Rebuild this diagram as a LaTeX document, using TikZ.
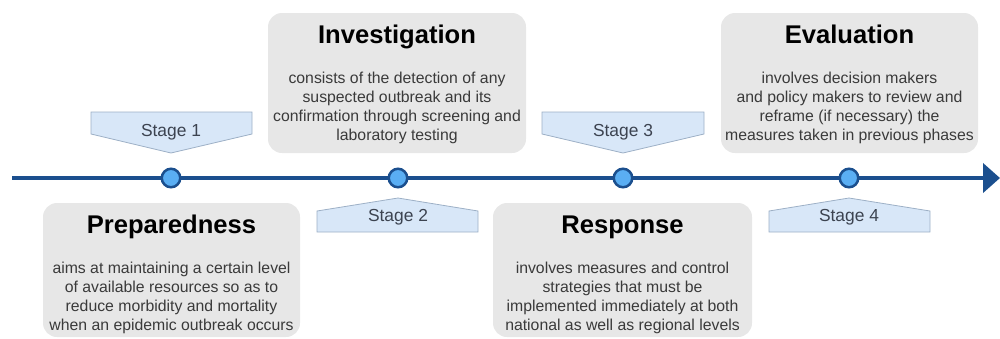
\documentclass[tikz,border=0pt]{standalone}
\usepackage{fontspec}
\setmainfont{Liberation Sans}
\usetikzlibrary{arrows.meta}

\definecolor{lineblue}{HTML}{1B4F8E}
\definecolor{dotblue}{HTML}{5AAEF3}
\definecolor{tabblue}{HTML}{D8E7F8}
\definecolor{tabedge}{HTML}{9DB0C6}
\definecolor{cardgray}{HTML}{E7E7E7}
\definecolor{bodygray}{HTML}{3A3A3A}
\definecolor{stagegray}{HTML}{3C4350}

\tikzset{
  card/.style={fill=cardgray, rounded corners=14pt},
  title/.style={font=\fontsize{25.6}{30}\selectfont\bfseries, text=black, anchor=base, inner sep=0pt},
  % multi-line texts: the base anchor sits on the last line
  body/.style={font=\fontsize{15.8}{19}\selectfont, text=bodygray, align=center, anchor=base, inner sep=0pt},
  stagetxt/.style={font=\fontsize{17.4}{20}\selectfont, text=stagegray, anchor=base, inner sep=0pt},
  tab/.style={fill=tabblue, draw=tabedge, line width=0.8pt, line join=miter},
  dot/.style={circle, minimum size=18.5pt, inner sep=0pt, fill=dotblue, draw=lineblue, line width=2.5pt},
  axis/.style={draw=lineblue, line width=4.2pt, -{Triangle[length=17pt,width=29pt]}},
}

\begin{document}
\begin{tikzpicture}[x=1pt, y=-1pt]
  \useasboundingbox (0,0) rectangle (1000,338);

  % grey description cards
  \fill[card] (43,203) rectangle (300,337);
  \fill[card] (268,13) rectangle (526,153);
  \fill[card] (493,203) rectangle (752,337);
  \fill[card] (721,13) rectangle (978,153);

  % stage tabs: pointing down (above the axis) or up (below it)
  \draw[tab] (91,112) -- (252,112) -- (252,134) -- (171,153) -- (91,134) -- cycle;
  \draw[tab] (317,232) -- (478,232) -- (478,211) -- (398,198) -- (317,211) -- cycle;
  \draw[tab] (542,112) -- (704,112) -- (704,134) -- (623,153) -- (542,134) -- cycle;
  \draw[tab] (769,232) -- (930,232) -- (930,211) -- (849,198) -- (769,211) -- cycle;

  \node[stagetxt] (s1) at (171,136) {Stage 1};
  \node[stagetxt] (s2) at (398,221) {Stage 2};
  \node[stagetxt] (s3) at (623,136) {Stage 3};
  \node[stagetxt] (s4) at (849,221) {Stage 4};

  % time axis with the four stage markers
  \coordinate (start) at (12,178);
  \coordinate (end) at (1000,178);
  \draw[axis] (start) -- (end);
  \node[dot] (d1) at (171,178) {};
  \node[dot] (d2) at (398,178) {};
  \node[dot] (d3) at (623,178) {};
  \node[dot] (d4) at (849,178) {};

  % card titles
  \node[title] (t1) at (171.5,233) {Preparedness};
  \node[title] (t2) at (397,43) {Investigation};
  \node[title] (t3) at (622.5,233) {Response};
  \node[title] (t4) at (849.5,43) {Evaluation};

  % card texts
  \node[body] (b1) at (171.5,330) {aims at maintaining a certain level\\of available resources so as to\\reduce morbidity and mortality\\when an epidemic outbreak occurs};
  \node[body] (b2) at (397,140) {consists of the detection of any\\suspected outbreak and its\\confirmation through screening and\\laboratory testing};
  \node[body] (b3) at (622.5,330) {involves measures and control\\strategies that must be\\implemented immediately at both\\national as well as regional levels};
  \node[body] (b4) at (849.5,140) {involves decision makers\\and policy makers to review and\\reframe (if necessary) the\\measures taken in previous phases};
\end{tikzpicture}
\end{document}
